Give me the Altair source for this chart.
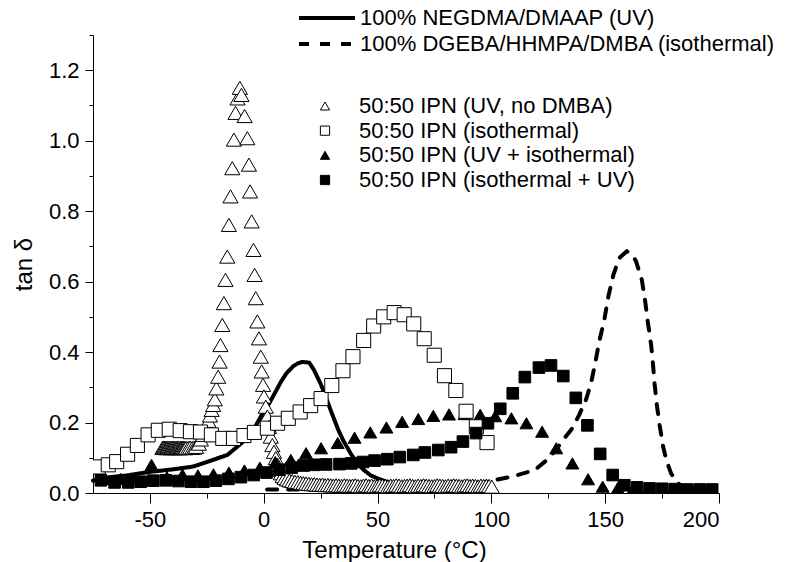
import altair as alt
import pandas as pd

# ---------------- data ----------------
LINE_SOLID = "100% NEGDMA/DMAAP (UV)"
LINE_DASH = "100% DGEBA/HHMPA/DMBA (isothermal)"
S_OT = "50:50 IPN (UV, no DMBA)"
S_OS = "50:50 IPN (isothermal)"
S_FT = "50:50 IPN (UV + isothermal)"
S_FS = "50:50 IPN (isothermal + UV)"

solid_x = [-75, -67.6, -60, -50, -40, -31, -24, -16, -10, -7, -4, -1.3, 2, 5, 7.5, 10, 13, 15, 17, 20, 22,
           25, 27.4, 30, 32.7, 35, 38.4, 41, 44, 47, 51.7, 55, 60]
solid_y = [0.035, 0.045, 0.05, 0.06, 0.067, 0.075, 0.09, 0.108, 0.14, 0.16, 0.185, 0.217, 0.25, 0.285, 0.315,
           0.34, 0.36, 0.368, 0.372, 0.37, 0.35, 0.31, 0.27, 0.225, 0.18, 0.148, 0.11, 0.085, 0.065, 0.05,
           0.037, 0.03, 0.025]

dash_x = [1.5, 10, 20, 30, 40, 50, 60, 70, 80, 90, 97, 101.6, 110, 119, 123.7, 128, 132, 135.6, 138.6, 141.5,
          143.7, 145.6, 147.4, 149.6, 151.4, 153.6, 156.2, 159.5, 162, 163.6, 166.1, 167.5, 168.7, 170.2, 170.9,
          171.7, 172.7, 173.9, 175.5, 177, 179, 181, 183, 186, 190, 195, 200]
dash_y = [0.01, 0.01, 0.01, 0.012, 0.012, 0.013, 0.015, 0.017, 0.02, 0.025, 0.03, 0.037, 0.048, 0.065, 0.09,
          0.12, 0.155, 0.184, 0.222, 0.264, 0.309, 0.368, 0.43, 0.491, 0.558, 0.619, 0.667, 0.686, 0.676, 0.657,
          0.605, 0.548, 0.487, 0.42, 0.373, 0.311, 0.25, 0.193, 0.13, 0.09, 0.055, 0.035, 0.022, 0.015, 0.012,
          0.01, 0.01]

# 50:50 IPN (UV, no DMBA) - open triangles (dense measurement)
ot_x = [-44.5, -44.1, -43.7, -43.3, -42.9, -42.5, -42.1, -41.7, -41.3, -40.9, -40.5, -40.1, -39.7, -39.3,
        -38.9, -38.5, -38.1, -37.7, -37.3, -36.9, -36.5, -36.1, -35.7, -35.3, -34.9, -34.5, -34.1,
        -33.2, -32.3, -31.4, -30.5, -29.7,
        -28.5, -27.6, -26.7, -25.8, -25.0, -24.3, -23.6, -22.9, -22.2, -21.5, -20.8, -20.0, -19.4, -19.0,
        -18.2, -17.5, -16.8, -16.0, -15.3, -14.6, -13.8, -13.1, -12.4, -11.5, -10.5, -9.8, -8.4, -7.2,
        -6.5, -6.0, -5.3, -4.5, -4.0, -3.5, -2.8, -2.1, -1.3, -0.9, -0.3, 0.1, 0.9, 1.6, 2.3, 3.1, 3.8,
        4.5, 5.3, 6.1, 6.8, 7.5, 8.3, 9.2, 10.2, 11.3, 12.5, 13.7, 15.0,
        16.2, 17.4, 18.6, 19.8, 21.0, 22.2, 23.4, 24.6, 25.8, 27.0, 28.2, 29.4, 30.6, 31.8, 33.0, 34.2,
        35.4, 36.6, 37.8, 39.0, 40.2, 41.4, 42.6, 43.8, 45.0, 46.2, 47.4, 48.6, 49.8, 51.0, 52.2, 53.4,
        54.6, 55.8, 57.0, 58.2, 59.4, 60.6, 61.8, 63.0, 64.2, 65.4, 66.6, 67.8, 69.0, 70.2, 71.4, 72.6,
        73.8, 75.0, 76.2, 77.4, 78.6, 79.8, 81.0, 82.2, 83.4, 84.6, 85.8, 87.0, 88.2, 89.4, 90.6, 91.8,
        93.0, 94.2, 95.4, 96.6, 97.8, 99.0, 100.2]
ot_y = [0.128, 0.128, 0.129, 0.128, 0.127, 0.128, 0.129, 0.128, 0.128, 0.127, 0.128, 0.129, 0.128, 0.128,
        0.127, 0.128, 0.128, 0.129, 0.128, 0.127, 0.128, 0.128, 0.129, 0.128, 0.128, 0.127, 0.128,
        0.128, 0.129, 0.128, 0.129, 0.131,
        0.14, 0.152, 0.165, 0.178, 0.192, 0.205, 0.22, 0.236, 0.25, 0.266, 0.297, 0.33, 0.373, 0.42,
        0.477, 0.539, 0.605, 0.671, 0.761, 0.842, 0.922, 1.003, 1.079, 1.12, 1.15, 1.13, 1.07, 1.007,
        0.932, 0.856, 0.771, 0.69, 0.619, 0.553, 0.487, 0.439, 0.387, 0.345, 0.307, 0.274, 0.245, 0.217,
        0.188, 0.16, 0.136, 0.117, 0.099, 0.08, 0.066, 0.056, 0.048, 0.043, 0.039, 0.036, 0.034, 0.032,
        0.031,
        0.029, 0.028, 0.027, 0.026, 0.025, 0.025, 0.024, 0.023, 0.024, 0.022, 0.023, 0.022, 0.021, 0.022,
        0.021, 0.020, 0.022, 0.021, 0.020, 0.021, 0.022, 0.020, 0.019, 0.021, 0.022, 0.020, 0.021, 0.019,
        0.020, 0.022, 0.021, 0.020, 0.019, 0.021, 0.020, 0.022, 0.021, 0.019, 0.020, 0.021, 0.022, 0.020,
        0.019, 0.021, 0.020, 0.022, 0.021, 0.020, 0.019, 0.020, 0.022, 0.021, 0.020, 0.019, 0.021, 0.020,
        0.022, 0.021, 0.020, 0.019, 0.021, 0.022, 0.020, 0.021, 0.020, 0.019, 0.021, 0.020, 0.021, 0.020,
        0.018]

# 50:50 IPN (isothermal) - open squares
os_x = [-72.7, -68.3, -64.6, -59.8, -55.5, -50.8, -46.3, -41.5, -36.7, -32.2, -27.8, -23.0, -18.0, -13.3,
        -8.7, -4.1, 1.6, 6.1, 10.8, 16.0, 20.6, 25.2, 29.9, 34.8, 39.2, 43.9, 48.3, 52.7, 57.3, 61.7, 65.9,
        70.5, 74.9, 79.4, 84.4, 88.9, 93.4, 98.1]
os_y = [0.074, 0.08, 0.089, 0.11, 0.135, 0.165, 0.178, 0.181, 0.177, 0.174, 0.173, 0.165, 0.155, 0.155,
        0.163, 0.172, 0.184, 0.198, 0.212, 0.23, 0.248, 0.268, 0.305, 0.347, 0.387, 0.433, 0.474, 0.5,
        0.512, 0.506, 0.48, 0.438, 0.391, 0.333, 0.291, 0.232, 0.188, 0.143]

# 50:50 IPN (UV + isothermal) - filled triangles
ft_x = [-69.7, -62.9, -56.1, -49.3, -42.5, -35.7, -28.9, -22.1, -15.3, -8.5, -1.7, 5.1, 11.9, 18.6, 25.2,
        32.5, 39.9, 46.8, 53.9, 60.8, 67.9, 74.5, 81.4, 88.2, 95.1, 101.7, 108.8, 115.4, 122.3, 128.5,
        135.6, 142.5, 148.9, 155.5, 162.3, 169.0, 175.8, 182.6, 189.4, 196.2]
ft_y = [0.04, 0.04, 0.042, 0.08, 0.045, 0.052, 0.05, 0.053, 0.058, 0.064, 0.072, 0.088, 0.094, 0.113, 0.127,
        0.142, 0.157, 0.172, 0.186, 0.202, 0.21, 0.219, 0.223, 0.224, 0.222, 0.218, 0.212, 0.198, 0.174,
        0.127, 0.084, 0.039, 0.018, 0.014, 0.012, 0.01, 0.01, 0.009, 0.008, 0.008]

# 50:50 IPN (isothermal + UV) - filled squares
fs_x = [-71.5, -65.5, -59.5, -54.0, -48.5, -43.0, -37.5, -32.0, -26.5, -21.0, -15.5, -10.0, -4.4, 1.2, 6.8,
        12.3, 17.5, 22.2, 27.4, 33.3, 38.4, 43.6, 48.7, 54.3, 59.8, 65.7, 70.8, 76.7, 82.3, 87.5, 93.3,
        98.5, 103.9, 109.4, 114.7, 120.9, 126.2, 131.6, 137.1, 142.2, 147.8, 153.3, 158.4, 164.0, 169.5,
        175.0, 180.5, 186.0, 191.5, 197.0]
fs_y = [0.036, 0.03, 0.03, 0.032, 0.035, 0.036, 0.034, 0.032, 0.032, 0.035, 0.04, 0.045, 0.051, 0.058,
        0.066, 0.072, 0.078, 0.08, 0.081, 0.082, 0.084, 0.088, 0.092, 0.096, 0.102, 0.108, 0.115, 0.122,
        0.13, 0.146, 0.17, 0.198, 0.239, 0.283, 0.329, 0.356, 0.362, 0.332, 0.27, 0.192, 0.111, 0.051,
        0.022, 0.016, 0.013, 0.012, 0.011, 0.01, 0.01, 0.01]

x_ticks = [-50, -25, 0, 25, 50, 75, 100, 125, 150, 175, 200]
y_ticks = [0.0, 0.1, 0.2, 0.3, 0.4, 0.5, 0.6, 0.7, 0.8, 0.9, 1.0, 1.1, 1.2, 1.3]

samples = [S_OT, S_OS, S_FT, S_FS]
legend_rows = [0, 1, 2, 3]

# ---------------- tables ----------------
lines_df = pd.concat([
    pd.DataFrame({"T": solid_x, "tan": solid_y, "curve": LINE_SOLID}),
    pd.DataFrame({"T": dash_x, "tan": dash_y, "curve": LINE_DASH}),
], ignore_index=True)
lines_df["order"] = range(len(lines_df))

pts_df = pd.concat([
    pd.DataFrame({"T": ot_x, "tan": ot_y, "sample": S_OT}),
    pd.DataFrame({"T": ft_x, "tan": ft_y, "sample": S_FT}),
    pd.DataFrame({"T": os_x, "tan": os_y, "sample": S_OS}),
    pd.DataFrame({"T": fs_x, "tan": fs_y, "sample": S_FS}),
], ignore_index=True)

leg_df = pd.DataFrame({"sample": samples, "row": legend_rows})

shape_scale = alt.Scale(domain=samples, range=["triangle-up", "square", "triangle-up", "square"])
fill_scale = alt.Scale(domain=samples, range=["white", "white", "black", "black"])
size_scale = alt.Scale(domain=samples, range=[230, 135, 220, 130])

xscale = alt.Scale(domain=[-75, 200], nice=False, zero=False)
yscale = alt.Scale(domain=[0, 1.3], nice=False, zero=False)

xaxis = alt.Axis(
    values=x_ticks, title="Temperature (°C)",
    labelExpr="datum.value % 50 === 0 ? toString(datum.value) : ''",
    tickSize={"condition": {"test": "datum.value % 50 === 0", "value": 10}, "value": 5},
    labelPadding=6, titleX=301, titleY=64, titleBaseline="alphabetic", titleAnchor="start",
    titleAlign="center",
)
yaxis = alt.Axis(
    values=y_ticks, title="tan δ",
    labelExpr="round(datum.value*10) % 2 === 0 ? format(datum.value, '.1f') : ''",
    tickSize={"condition": {"test": "round(datum.value*10) % 2 === 0", "value": 8}, "value": 4},
    labelPadding=6, titleX=-69, titleY=229, titleAngle=-90, titleBaseline="middle",
    titleAlign="center",
)

lines = alt.Chart(lines_df).mark_line(color="black", strokeWidth=4, strokeCap="round").encode(
    x=alt.X("T:Q", scale=xscale, axis=xaxis),
    y=alt.Y("tan:Q", scale=yscale, axis=yaxis),
    order="order:Q",
    strokeDash=alt.StrokeDash(
        "curve:N",
        scale=alt.Scale(domain=[LINE_SOLID, LINE_DASH], range=[[1, 0], [10, 11]]),
        legend=alt.Legend(
            orient="none", legendX=223, legendY=-28, title=None,
            symbolType="M-5.6,0H5.6", symbolSize=100, symbolStrokeWidth=4,
            symbolStrokeColor="black", symbolFillColor="transparent",
            labelFontSize=22, labelOffset=22, labelLimit=900, rowPadding=4,
        ),
    ),
)

points = alt.Chart(pts_df).mark_point(filled=True, stroke="black", strokeWidth=1, opacity=1,
                                     clip=True).encode(
    x=alt.X("T:Q", scale=xscale, axis=xaxis),
    y=alt.Y("tan:Q", scale=yscale, axis=yaxis),
    shape=alt.Shape("sample:N", scale=shape_scale, legend=None),
    fill=alt.Fill("sample:N", scale=fill_scale, legend=None),
    size=alt.Size("sample:N", scale=size_scale, legend=None),
)

main = alt.layer(lines, points)

# legend for the marker series (rows placed by a small row scale)
leg_y = alt.Y("row:Q", scale=alt.Scale(domain=[0, 3], range=[71, 145]), axis=None)
leg_symbols = alt.Chart(leg_df).mark_point(filled=True, stroke="black", strokeWidth=1, opacity=1,
                                          size=85).encode(
    x=alt.value(232),
    y=leg_y,
    shape=alt.Shape("sample:N", scale=shape_scale, legend=None),
    fill=alt.Fill("sample:N", scale=fill_scale, legend=None),
)
leg_text = alt.Chart(leg_df).mark_text(align="left", baseline="middle", fontSize=22,
                                       font="Liberation Sans", color="black").encode(
    x=alt.value(266),
    y=leg_y,
    text="sample:N",
)
marker_legend = alt.layer(leg_symbols, leg_text)

chart = alt.layer(main, marker_legend).resolve_scale(y="independent").resolve_legend(
    strokeDash="independent").properties(
    width=626, height=458,
    autosize=alt.AutoSizeParams(type="none"),
    padding={"left": 93, "top": 35, "right": 69, "bottom": 69},
).configure(font="Liberation Sans").configure_view(stroke=None).configure_axis(
    grid=False, domainColor="black", tickColor="black", labelColor="black", titleColor="black",
    labelFontSize=22, titleFontSize=24, titleFontWeight="normal", labelFont="Liberation Sans",
    titleFont="Liberation Sans",
).configure_legend(labelColor="black", labelFont="Liberation Sans")

chart.save("out.html", embed_options={"renderer": "svg", "actions": False})
